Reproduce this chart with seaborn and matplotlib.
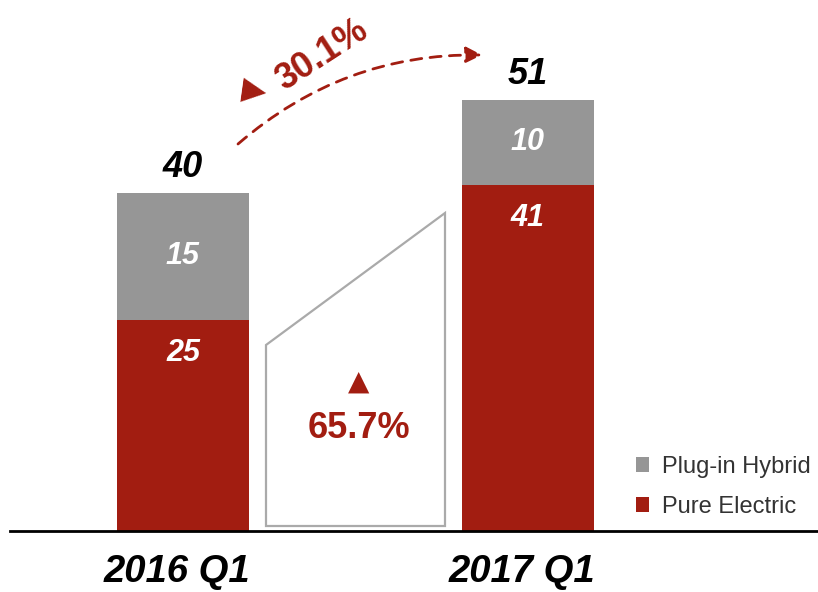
import matplotlib
matplotlib.use("Agg")
import matplotlib.pyplot as plt
import seaborn as sns
import pandas as pd
from matplotlib.patches import Polygon, FancyArrowPatch, Patch

quarters = ["2016 Q1", "2017 Q1"]
pure_electric = [25, 41]
plug_in_hybrid = [15, 10]
totals = [40, 51]
growth_total = "30.1%"
growth_pure = "65.7%"
series_names = ["Plug-in Hybrid", "Pure Electric"]

RED = "#A21D11"
GRAY = "#969696"

sns.set_theme(style="white")
plt.rcParams["font.family"] = ["Liberation Sans", "DejaVu Sans"]

fig = plt.figure(figsize=(8.18, 5.92), dpi=100)
ax = fig.add_axes([10 / 818, 61 / 592, 808 / 818, 531 / 592])

df = pd.DataFrame({"quarter": quarters, "pe": pure_electric,
                   "total": [a + b for a, b in zip(pure_electric, plug_in_hybrid)]})

bw = 132 / 344.5
sns.barplot(data=df, x="quarter", y="total", color=GRAY, saturation=1, width=bw, ax=ax,
            order=quarters, linewidth=0, edgecolor="none")
sns.barplot(data=df, x="quarter", y="pe", color=RED, saturation=1, width=bw, ax=ax,
            order=quarters, linewidth=0, edgecolor="none")

ppu = 8.45
ax.set_xlim((10 - 183) / 344.5, (818 - 183) / 344.5)
ax.set_ylim(0, 531 / ppu)
ax.set_xticks([])
ax.set_yticks([])
ax.set_xlabel("")
ax.set_ylabel("")
for s in ["top", "left", "right"]:
    ax.spines[s].set_visible(False)
ax.spines["bottom"].set_color("black")
ax.spines["bottom"].set_linewidth(2)


def px(xp, yp):
    return ((xp - 183) / 344.5, (531 - yp) / ppu)


for i, q in enumerate(quarters):
    pe, ph, tot = pure_electric[i], plug_in_hybrid[i], totals[i]
    ax.text(i, pe - 3.9, str(pe), ha="center", va="center", color="white",
            fontsize=22, fontweight="bold", fontstyle="italic")
    ax.text(i, pe + ph / 2, str(ph), ha="center", va="center", color="white",
            fontsize=22, fontweight="bold", fontstyle="italic")
    ax.text(i, pe + ph + 1.9, str(tot), ha="center", va="baseline", color="black",
            fontsize=26, fontweight="bold", fontstyle="italic")
    ax.text(i - 6 / 344.5, (531 - 582) / ppu, q, ha="center", va="baseline", color="black",
            fontsize=27.5, fontweight="bold", fontstyle="italic")

poly = Polygon([px(266, 526), px(266, 345), px(445, 213), px(445, 526)], closed=True,
               facecolor="white", edgecolor="#AAAAAA", linewidth=1.6, zorder=3)
ax.add_patch(poly)
x, y = px(359, 382)
ax.text(x, y, "▲", ha="center", va="center", color=RED, fontsize=20, zorder=4,
        family=["DejaVu Sans"])
x, y = px(359, 428)
ax.text(x, y, growth_pure, ha="center", va="center", color=RED, fontsize=26,
        fontweight="bold", zorder=4)

arrow = FancyArrowPatch(px(238, 144), px(482, 55), connectionstyle="arc3,rad=-0.19",
                        arrowstyle="-|>", mutation_scale=24, color=RED, linewidth=2,
                        linestyle=(0, (4, 3)), shrinkA=0, shrinkB=0)
ax.add_patch(arrow)
x, y = px(254, 91)
ax.text(x, y, "▶", ha="center", va="center", color=RED, fontsize=23,
        family=["DejaVu Sans"], rotation=-8)
x, y = px(322, 55)
ax.text(x, y, growth_total, ha="center", va="center", color=RED, fontsize=26,
        fontweight="bold", rotation=33, rotation_mode="anchor")

handles = [Patch(facecolor=GRAY, edgecolor="none"), Patch(facecolor=RED, edgecolor="none")]
leg = fig.legend(handles, series_names, loc="upper left",
                 bbox_to_anchor=(636 / 818, 1 - 456 / 592),
                 frameon=False, fontsize=17, handlelength=0.55, handleheight=0.6,
                 handletextpad=0.55, labelspacing=0.75, borderpad=0, borderaxespad=0)
for t in leg.get_texts():
    t.set_color("#333333")

fig.savefig("out.png", dpi=100)
